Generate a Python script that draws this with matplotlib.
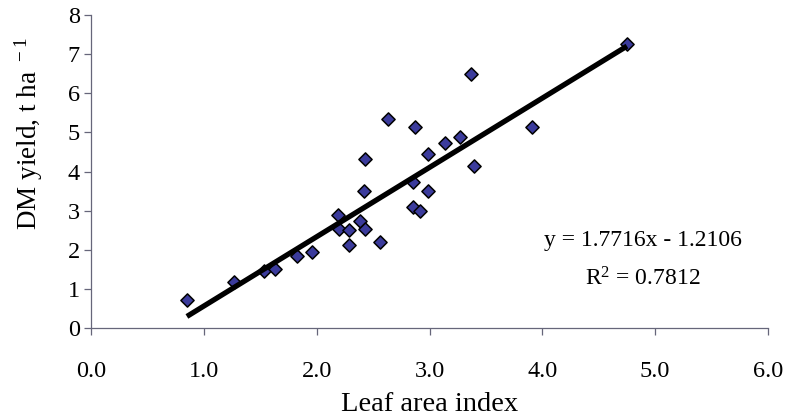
import numpy as np
import matplotlib
matplotlib.use("Agg")
import matplotlib.pyplot as plt

plt.rcParams.update({
    "font.family": ["Liberation Serif", "DejaVu Serif"],
    "mathtext.fontset": "custom",
    "mathtext.rm": "Liberation Serif",
    "mathtext.it": "Liberation Serif:italic",
})

# Data
lai = [0.85, 1.27, 1.53, 1.63, 1.83, 1.96, 2.19, 2.20, 2.29, 2.29,
       2.38, 2.43, 2.42, 2.43, 2.56, 2.63, 2.87, 2.85, 2.85, 2.92,
       2.99, 2.99, 3.14, 3.27, 3.37, 3.39, 3.91, 4.75]
dm_yield = [0.72, 1.18, 1.46, 1.50, 1.85, 1.93, 2.89, 2.53, 2.51, 2.13,
            2.74, 2.53, 3.49, 4.32, 2.20, 5.35, 5.14, 3.73, 3.08, 3.00,
            4.45, 3.49, 4.73, 4.88, 6.50, 4.15, 5.14, 7.25]
slope = 1.7716
intercept = -1.2106
r_squared = 0.7812

x_ticks = [0.0, 1.0, 2.0, 3.0, 4.0, 5.0, 6.0]
y_ticks = [0, 1, 2, 3, 4, 5, 6, 7, 8]

fig = plt.figure(figsize=(7.89, 4.16), dpi=100)
ax = fig.add_axes([91 / 789, 1 - 328 / 416, 677 / 789, 313 / 416])

ax.scatter(lai, dm_yield, marker="D", s=45, facecolor="#3b3b9c",
           edgecolor="black", linewidth=1.1, zorder=3)

# trend line across the range of the data
xl = np.array([min(lai), max(lai)])
ax.plot(xl, slope * xl + intercept, color="black", lw=3.8,
        solid_capstyle="butt", zorder=4)

ax.text(4.89, 2.24, f"y = {slope}x - {abs(intercept)}", fontsize=17,
        ha="center", va="center")
ax.text(4.89, 1.25, f"R$^{{2}}$ = {r_squared}", fontsize=17,
        ha="center", va="center")

ax.set_xlim(0, 6)
ax.set_ylim(0, 8)
ax.set_xticks(x_ticks)
ax.set_xticklabels([f"{t:.1f}" for t in x_ticks])
ax.set_yticks(y_ticks)

axis_col = "#66667a"
for side in ["top", "right"]:
    ax.spines[side].set_visible(False)
for side in ["left", "bottom"]:
    ax.spines[side].set_color(axis_col)
    ax.spines[side].set_linewidth(0.9)
ax.tick_params(axis="both", direction="out", length=5, width=0.9,
               color=axis_col, labelsize=17.5)
ax.tick_params(axis="x", pad=19)
ax.tick_params(axis="y", pad=3)

ax.set_xlabel("Leaf area index", fontsize=20.5)
ax.set_ylabel(r"DM yield, t ha$^{\;\;-1}$", fontsize=19.5)
ax.xaxis.set_label_coords(0.5, -0.205)
ax.yaxis.set_label_coords(-0.068, 0.62)

fig.savefig("out.png", dpi=100)
